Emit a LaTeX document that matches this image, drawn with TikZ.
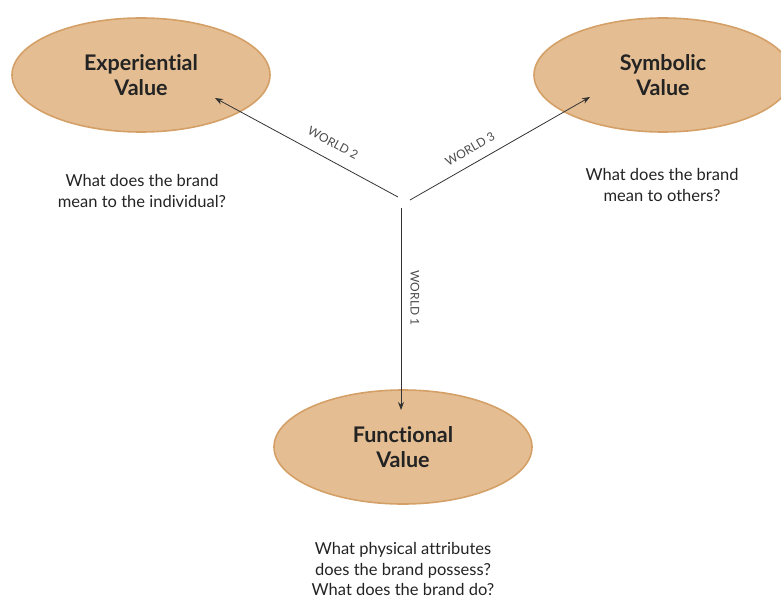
\documentclass[tikz,border=0pt]{standalone}
\usepackage{fontspec}
\setmainfont{Lato}[Ligatures=CommonOff]
\usetikzlibrary{shapes.geometric,arrows.meta}
\definecolor{ovalfill}{RGB}{228,190,146}
\definecolor{ovaledge}{RGB}{212,160,104}
\definecolor{txt}{RGB}{35,35,35}
\begin{document}
\begin{tikzpicture}[x=1pt,y=-1pt,
  oval/.style={ellipse,fill=ovalfill,draw=ovaledge,line width=1.6pt,minimum width=258pt,minimum height=114pt,align=center,font=\fontsize{21.5}{25}\selectfont\bfseries,text=txt},
  note/.style={align=center,font=\fontsize{16.5}{20.5}\selectfont,text=txt},
  world/.style={font=\fontsize{12}{14}\selectfont,text=black!70,inner sep=1pt},
  conn/.style={line width=0.8pt,draw=black!80,-{Stealth[length=8pt,width=6pt]}}]
\useasboundingbox (0,0) rectangle (781,599);
\node[oval] (exp) at (141,75) {Experiential\\Value};
\node[oval] (sym) at (663,75) {Symbolic\\Value};
\node[oval] (fun) at (403,447) {Functional\\Value};
\coordinate (cl) at (398,197);
\coordinate (cr) at (410,200);
\coordinate (cv) at (401,208);
\draw[conn] (cl) -- (215,98) coordinate (el);
\draw[conn] (cr) -- (590,97) coordinate (er);
\draw[conn] (cv) -- (401,410) coordinate (ev);
\node[world,rotate=-28] (w2) at (333,143) {WORLD 2};
\node[world,rotate=30] (w3) at (470,149) {WORLD 3};
\node[world,rotate=-90] (w1) at (415,298) {WORLD 1};
\node[note] (n1) at (142,191) {What does the brand\\mean to the individual?};
\node[note] (n2) at (662,185) {What does the brand\\mean to others?};
\node[note] (n3) at (403,569) {What physical attributes\\does the brand possess?\\What does the brand do?};
\end{tikzpicture}
\end{document}
